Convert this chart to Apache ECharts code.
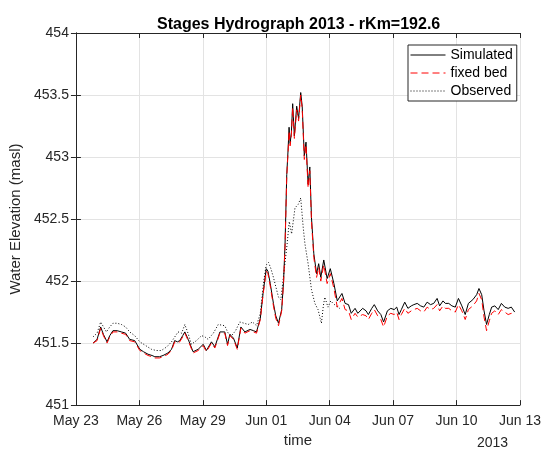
<!DOCTYPE html>
<html>
<head>
<meta charset="utf-8">
<script src="https://cdn.jsdelivr.net/npm/echarts@6/dist/echarts.min.js"></script>
<style>html,body{margin:0;padding:0;background:#fff}#c{width:544px;height:453px}</style>
</head>
<body>
<div id="c"></div>
<script>
// time in days since 2013-05-23 00:00
const simTime = [0.81,1.0,1.17,1.3,1.47,1.6,1.75,1.95,2.15,2.35,2.54,2.78,3.02,3.2,3.41,3.6,3.73,3.95,4.12,4.35,4.52,4.67,4.8,4.91,5.05,5.15,5.31,5.54,5.78,6.02,6.17,6.41,6.57,6.81,7.04,7.17,7.28,7.45,7.63,7.8,7.99,8.23,8.4,8.54,8.72,8.85,9.0,9.08,9.19,9.34,9.45,9.58,9.66,9.73,9.82,9.89,9.97,10.03,10.08,10.13,10.19,10.25,10.33,10.44,10.53,10.63,10.7,10.8,10.88,10.98,11.06,11.14,11.25,11.38,11.48,11.58,11.72,11.88,12.03,12.2,12.36,12.58,12.73,12.89,13.02,13.2,13.33,13.56,13.72,13.83,13.99,14.11,14.27,14.42,14.55,14.73,14.89,15.05,15.17,15.28,15.39,15.55,15.7,15.86,15.98,16.14,16.3,16.45,16.61,16.77,16.92,17.08,17.2,17.36,17.47,17.63,17.78,17.94,18.09,18.25,18.41,18.56,18.77,18.95,19.06,19.19,19.3,19.42,19.55,19.66,19.81,19.97,20.12,20.28,20.44,20.59,20.75];
const simulated = [451.50,451.53,451.63,451.57,451.51,451.56,451.60,451.60,451.59,451.58,451.53,451.52,451.45,451.43,451.41,451.40,451.39,451.39,451.40,451.42,451.45,451.52,451.51,451.52,451.56,451.59,451.53,451.43,451.45,451.49,451.44,451.51,451.47,451.59,451.59,451.49,451.57,451.54,451.46,451.63,451.59,451.61,451.60,451.59,451.70,451.90,452.10,452.08,451.98,451.82,451.72,451.66,451.67,451.77,452.00,452.30,452.86,453.05,453.24,453.11,453.20,453.43,453.17,453.41,453.31,453.52,453.41,453.01,453.12,452.78,452.92,452.51,452.22,452.06,452.14,452.03,452.17,452.02,452.10,451.98,451.84,451.90,451.82,451.81,451.74,451.78,451.74,451.78,451.76,451.73,451.78,451.81,451.76,451.73,451.67,451.76,451.78,451.77,451.79,451.73,451.77,451.83,451.78,451.80,451.81,451.82,451.80,451.79,451.83,451.81,451.82,451.86,451.80,451.84,451.82,451.82,451.80,451.79,451.86,451.80,451.73,451.82,451.85,451.89,451.94,451.89,451.76,451.65,451.73,451.79,451.80,451.77,451.82,451.79,451.78,451.79,451.75];
const fixedBed = [451.50,451.52,451.62,451.56,451.50,451.55,451.59,451.59,451.58,451.57,451.52,451.51,451.44,451.42,451.40,451.39,451.38,451.38,451.39,451.41,451.44,451.51,451.50,451.51,451.55,451.58,451.52,451.42,451.44,451.48,451.43,451.50,451.46,451.58,451.58,451.48,451.56,451.53,451.45,451.62,451.58,451.60,451.59,451.58,451.69,451.89,452.08,452.06,451.96,451.80,451.70,451.64,451.65,451.76,451.99,452.28,452.84,453.03,453.21,453.09,453.18,453.40,453.15,453.38,453.29,453.50,453.39,452.98,453.10,452.75,452.89,452.48,452.19,452.03,452.11,452.00,452.13,451.98,452.06,451.94,451.79,451.86,451.77,451.76,451.69,451.74,451.71,451.73,451.72,451.69,451.74,451.77,451.72,451.69,451.63,451.72,451.74,451.73,451.75,451.69,451.73,451.78,451.74,451.76,451.77,451.78,451.76,451.75,451.79,451.77,451.78,451.81,451.76,451.80,451.78,451.78,451.76,451.75,451.81,451.76,451.69,451.77,451.80,451.84,451.90,451.85,451.71,451.60,451.68,451.74,451.76,451.73,451.77,451.75,451.73,451.74,451.72];
const obsTime = [0.81,1.0,1.17,1.44,1.6,1.75,1.95,2.15,2.35,2.54,2.78,3.02,3.3,3.57,3.8,4.04,4.3,4.52,4.83,5.0,5.15,5.3,5.46,5.7,5.94,6.1,6.25,6.5,6.73,7.04,7.2,7.36,7.55,7.75,7.95,8.15,8.35,8.54,8.72,8.88,9.0,9.11,9.22,9.34,9.46,9.58,9.69,9.81,9.97,10.09,10.2,10.36,10.52,10.63,10.75,10.83,10.98,11.14,11.3,11.45,11.55,11.61,11.7,11.77,11.92,12.05,12.16,12.3,12.47];
const observed = [451.55,451.58,451.67,451.59,451.63,451.66,451.66,451.65,451.63,451.59,451.56,451.51,451.48,451.45,451.44,451.44,451.47,451.51,451.59,451.58,451.65,451.58,451.49,451.52,451.56,451.55,451.53,451.58,451.65,451.64,451.58,451.56,451.60,451.67,451.66,451.65,451.67,451.64,451.74,452.00,452.13,452.15,452.10,452.03,451.95,451.87,451.85,452.03,452.27,452.48,452.38,452.59,452.62,452.67,452.43,452.30,452.14,451.93,451.82,451.77,451.70,451.66,451.80,451.87,451.79,451.84,451.82,451.80,451.78];
const xTickLabels = ['May 23','May 26','May 29','Jun 01','Jun 04','Jun 07','Jun 10','Jun 13'];

const pair = (t, v) => t.map((d, i) => [d, v[i]]);
const FONT = 'Liberation Sans, Arial, Helvetica, sans-serif';
const axisCol = '#262626';

const chart = echarts.init(document.getElementById('c'), null, {renderer: 'canvas'});
chart.setOption({
  animation: false,
  backgroundColor: '#fff',
  textStyle: {fontFamily: FONT},
  title: [
    {text: 'Stages Hydrograph 2013 - rKm=192.6', left: 152, top: 12,
     textStyle: {fontFamily: FONT, fontSize: 16, fontWeight: 'bold', color: '#000'}},
    {text: '2013', left: 477, top: 436, padding: 0,
     textStyle: {fontFamily: FONT, fontSize: 14, fontWeight: 'normal', color: axisCol}}
  ],
  grid: {left: 74, right: 22, top: 33, bottom: 43, containLabel: false},
  legend: {
    orient: 'vertical', left: 408, top: 45,
    padding: [3, 4, 3, 2], itemGap: 4, itemWidth: 35, itemHeight: 14,
    borderColor: axisCol, borderWidth: 1, backgroundColor: '#fff',
    itemStyle: {opacity: 0},
    lineStyle: {width: 1},
    textStyle: {fontFamily: FONT, fontSize: 14, color: '#000'},
    data: ['Simulated', 'fixed bed', 'Observed']
  },
  xAxis: [
    {type: 'value', min: 0, max: 21, interval: 3,
     name: 'time', nameLocation: 'middle', nameGap: 26,
     nameTextStyle: {fontFamily: FONT, fontSize: 15, color: axisCol},
     axisLine: {show: true, lineStyle: {color: axisCol, width: 1}},
     axisTick: {show: true, inside: true, length: 5, lineStyle: {color: axisCol}},
     axisLabel: {margin: 9, fontFamily: FONT, fontSize: 14, color: axisCol,
       formatter: v => xTickLabels[Math.round(v / 3)] || ''},
     splitLine: {show: true, lineStyle: {color: '#e3e3e3', width: 1}}},
    {type: 'value', min: 0, max: 21, interval: 3, position: 'top',
     axisLine: {show: true, lineStyle: {color: axisCol, width: 1}},
     axisTick: {show: true, inside: true, length: 5, lineStyle: {color: axisCol}},
     axisLabel: {show: false}, splitLine: {show: false}}
  ],
  yAxis: [
    {type: 'value', min: 451, max: 454, interval: 0.5,
     name: 'Water Elevation (masl)', nameLocation: 'middle', nameGap: 52,
     nameTextStyle: {fontFamily: FONT, fontSize: 15, color: axisCol},
     axisLine: {show: true, lineStyle: {color: axisCol, width: 1}},
     axisTick: {show: true, inside: true, length: 5, lineStyle: {color: axisCol}},
     axisLabel: {margin: 7, fontFamily: FONT, fontSize: 14, color: axisCol},
     splitLine: {show: true, lineStyle: {color: '#e3e3e3', width: 1}}},
    {type: 'value', min: 451, max: 454, interval: 0.5, position: 'right',
     axisLine: {show: true, lineStyle: {color: axisCol, width: 1}},
     axisTick: {show: true, inside: true, length: 5, lineStyle: {color: axisCol}},
     axisLabel: {show: false}, splitLine: {show: false}}
  ],
  series: [
    {name: 'Simulated', type: 'line', symbol: 'none', data: pair(simTime, simulated),
     lineStyle: {color: '#000', width: 1, type: 'solid'}, itemStyle: {color: '#000'}, z: 3},
    {name: 'fixed bed', type: 'line', symbol: 'none', data: pair(simTime, fixedBed),
     lineStyle: {color: '#ff0000', width: 1, type: [7, 4]}, itemStyle: {color: '#ff0000'}, z: 4},
    {name: 'Observed', type: 'line', symbol: 'none', data: pair(obsTime, observed),
     lineStyle: {color: '#000', width: 1, type: [1, 2]}, itemStyle: {color: '#000'}, z: 2}
  ]
});
</script>
</body>
</html>
